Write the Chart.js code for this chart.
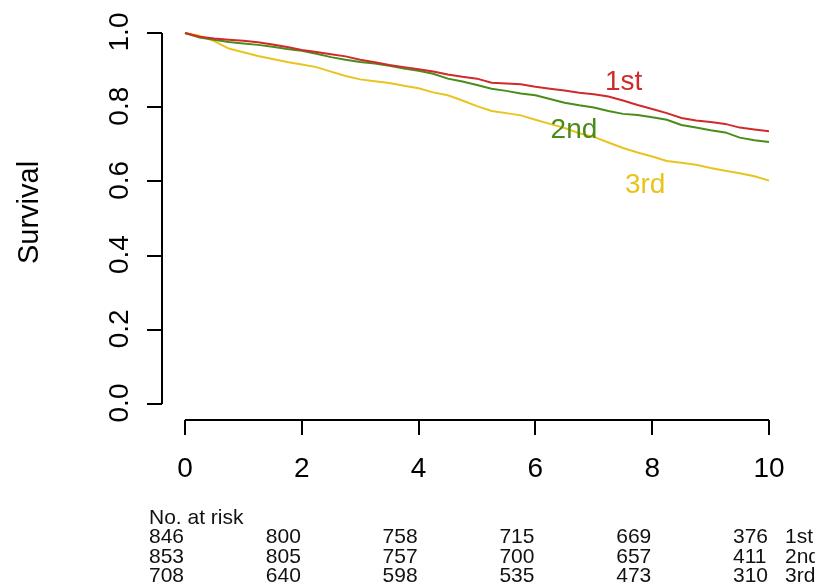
<!DOCTYPE html>
<html>
<head>
<meta charset="utf-8">
<script src="https://cdn.jsdelivr.net/npm/chart.js@4"></script>
<style>
  html, body { margin: 0; padding: 0; background: #fff; }
  #wrap { width: 815px; height: 588px; position: relative; }
</style>
</head>
<body>
<div id="wrap"><canvas id="survChart"></canvas></div>
<script>
// --- data ---
const times = [0, 0.25, 0.5, 0.75, 1, 1.25, 1.5, 1.75, 2, 2.25, 2.5, 2.75, 3, 3.25, 3.5, 3.75, 4, 4.25, 4.5, 4.75,
               5, 5.25, 5.5, 5.75, 6, 6.25, 6.5, 6.75, 7, 7.25, 7.5, 7.75, 8, 8.25, 8.5, 8.75, 9, 9.25, 9.5, 9.75, 10];
const surv1st = [1.000, 0.990, 0.985, 0.982, 0.979, 0.975, 0.969, 0.962, 0.954, 0.949, 0.943, 0.937, 0.928, 0.921, 0.914,
                 0.908, 0.902, 0.896, 0.888, 0.882, 0.877, 0.866, 0.864, 0.862, 0.855, 0.850, 0.845, 0.839, 0.835, 0.829,
                 0.818, 0.806, 0.795, 0.784, 0.771, 0.764, 0.760, 0.755, 0.745, 0.740, 0.735];
const surv2nd = [1.000, 0.988, 0.982, 0.976, 0.972, 0.968, 0.963, 0.957, 0.952, 0.944, 0.935, 0.928, 0.922, 0.918, 0.912,
                 0.904, 0.898, 0.890, 0.877, 0.869, 0.860, 0.850, 0.844, 0.837, 0.832, 0.822, 0.812, 0.805, 0.799, 0.790,
                 0.782, 0.779, 0.773, 0.766, 0.752, 0.745, 0.738, 0.732, 0.718, 0.711, 0.706];
const surv3rd = [1.000, 0.993, 0.978, 0.958, 0.948, 0.938, 0.930, 0.922, 0.915, 0.908, 0.896, 0.884, 0.875, 0.870, 0.865,
                 0.858, 0.851, 0.840, 0.832, 0.818, 0.803, 0.790, 0.784, 0.778, 0.766, 0.755, 0.744, 0.730, 0.720, 0.705,
                 0.690, 0.678, 0.667, 0.655, 0.650, 0.645, 0.636, 0.629, 0.622, 0.614, 0.602];

const groups = ['1st', '2nd', '3rd'];
const xTicks = [0, 2, 4, 6, 8, 10];
const yTicks = [0, 0.2, 0.4, 0.6, 0.8, 1.0];
const yTickLabels = ['0.0', '0.2', '0.4', '0.6', '0.8', '1.0'];

// numbers at risk at each x tick
const riskTimes = [0, 2, 4, 6, 8, 10];
const risk1st = [846, 800, 758, 715, 669, 376];
const risk2nd = [853, 805, 757, 700, 657, 411];
const risk3rd = [708, 640, 598, 535, 473, 310];

const colors = ['#d02a2a', '#4a8c1a', '#e8c41c'];
const FONT = '"Liberation Sans", Arial, sans-serif';

function toPoints(vals) {
    return times.map((t, i) => ({ x: t, y: vals[i] }));
}

// axes, labels and risk table drawn the R way (detached axes)
const rStyle = {
    id: 'rStyle',
    afterDatasetsDraw(chart) {
        const ctx = chart.ctx;
        const xs = chart.scales.x;
        const ys = chart.scales.y;
        const area = chart.chartArea;
        ctx.save();
        ctx.strokeStyle = '#000';
        ctx.fillStyle = '#000';
        ctx.lineWidth = 2;

        // y axis
        const ax = area.left - 23;
        ctx.beginPath();
        ctx.moveTo(ax, ys.getPixelForValue(yTicks[0]));
        ctx.lineTo(ax, ys.getPixelForValue(yTicks[yTicks.length - 1]));
        yTicks.forEach(v => {
            const py = Math.round(ys.getPixelForValue(v));
            ctx.moveTo(ax - 15, py);
            ctx.lineTo(ax, py);
        });
        ctx.stroke();

        ctx.font = '28px ' + FONT;
        ctx.textAlign = 'center';
        ctx.textBaseline = 'alphabetic';
        yTicks.forEach((v, i) => {
            ctx.save();
            ctx.translate(ax - 34, ys.getPixelForValue(v) - 1);
            ctx.rotate(-Math.PI / 2);
            ctx.fillText(yTickLabels[i], 0, 0);
            ctx.restore();
        });

        // y title
        ctx.save();
        ctx.font = '29px ' + FONT;
        ctx.translate(38, ys.getPixelForValue(0.5) - 6);
        ctx.rotate(-Math.PI / 2);
        ctx.fillText('Survival', 0, 0);
        ctx.restore();

        // x axis
        const ay = area.bottom + 16;
        ctx.beginPath();
        ctx.moveTo(xs.getPixelForValue(xTicks[0]), ay);
        ctx.lineTo(xs.getPixelForValue(xTicks[xTicks.length - 1]), ay);
        xTicks.forEach(v => {
            const px = Math.round(xs.getPixelForValue(v));
            ctx.moveTo(px, ay);
            ctx.lineTo(px, ay + 15);
        });
        ctx.stroke();

        ctx.font = '28px ' + FONT;
        xTicks.forEach(v => {
            ctx.fillText(String(v), xs.getPixelForValue(v), ay + 57);
        });

        // curve labels
        const curveLabels = [
            { t: 7.51, s: 0.846 },
            { t: 6.66, s: 0.717 },
            { t: 7.88, s: 0.569 }
        ];
        ctx.font = '28px ' + FONT;
        curveLabels.forEach((p, i) => {
            ctx.fillStyle = colors[i];
            ctx.fillText(groups[i], xs.getPixelForValue(p.t), ys.getPixelForValue(p.s));
        });

        // number at risk table
        ctx.fillStyle = '#111';
        ctx.textAlign = 'left';
        ctx.font = '21px ' + FONT;
        ctx.fillText('No. at risk', xs.getPixelForValue(0) - 36, 524);
        const rows = [risk1st, risk2nd, risk3rd];
        const rowY = [543, 563, 582];
        rows.forEach((row, r) => {
            row.forEach((n, i) => {
                ctx.fillText(String(n), xs.getPixelForValue(riskTimes[i]) - 36, rowY[r]);
            });
            ctx.fillText(groups[r], xs.getPixelForValue(10) + 16, rowY[r]);
        });
        ctx.restore();
    }
};

document.addEventListener("DOMContentLoaded", () => {
    const ctx = document.getElementById('survChart').getContext('2d');
    new Chart(ctx, {
        type: 'line',
        data: {
            datasets: [
                { label: groups[0], data: toPoints(surv1st), borderColor: colors[0] },
                { label: groups[1], data: toPoints(surv2nd), borderColor: colors[1] },
                { label: groups[2], data: toPoints(surv3rd), borderColor: colors[2] }
            ].map(d => Object.assign(d, {
                borderWidth: 2,
                pointRadius: 0,
                tension: 0,
                fill: false,
                clip: false
            }))
        },
        options: {
            responsive: true,
            maintainAspectRatio: false,
            animation: false,
            layout: { padding: { left: 185, right: 46, top: 33, bottom: 184 } },
            plugins: { legend: { display: false }, tooltip: { enabled: false } },
            scales: {
                x: { type: 'linear', min: 0, max: 10, display: false },
                y: { type: 'linear', min: 0, max: 1, display: false }
            }
        },
        plugins: [rStyle]
    });
});
</script>
</body>
</html>
